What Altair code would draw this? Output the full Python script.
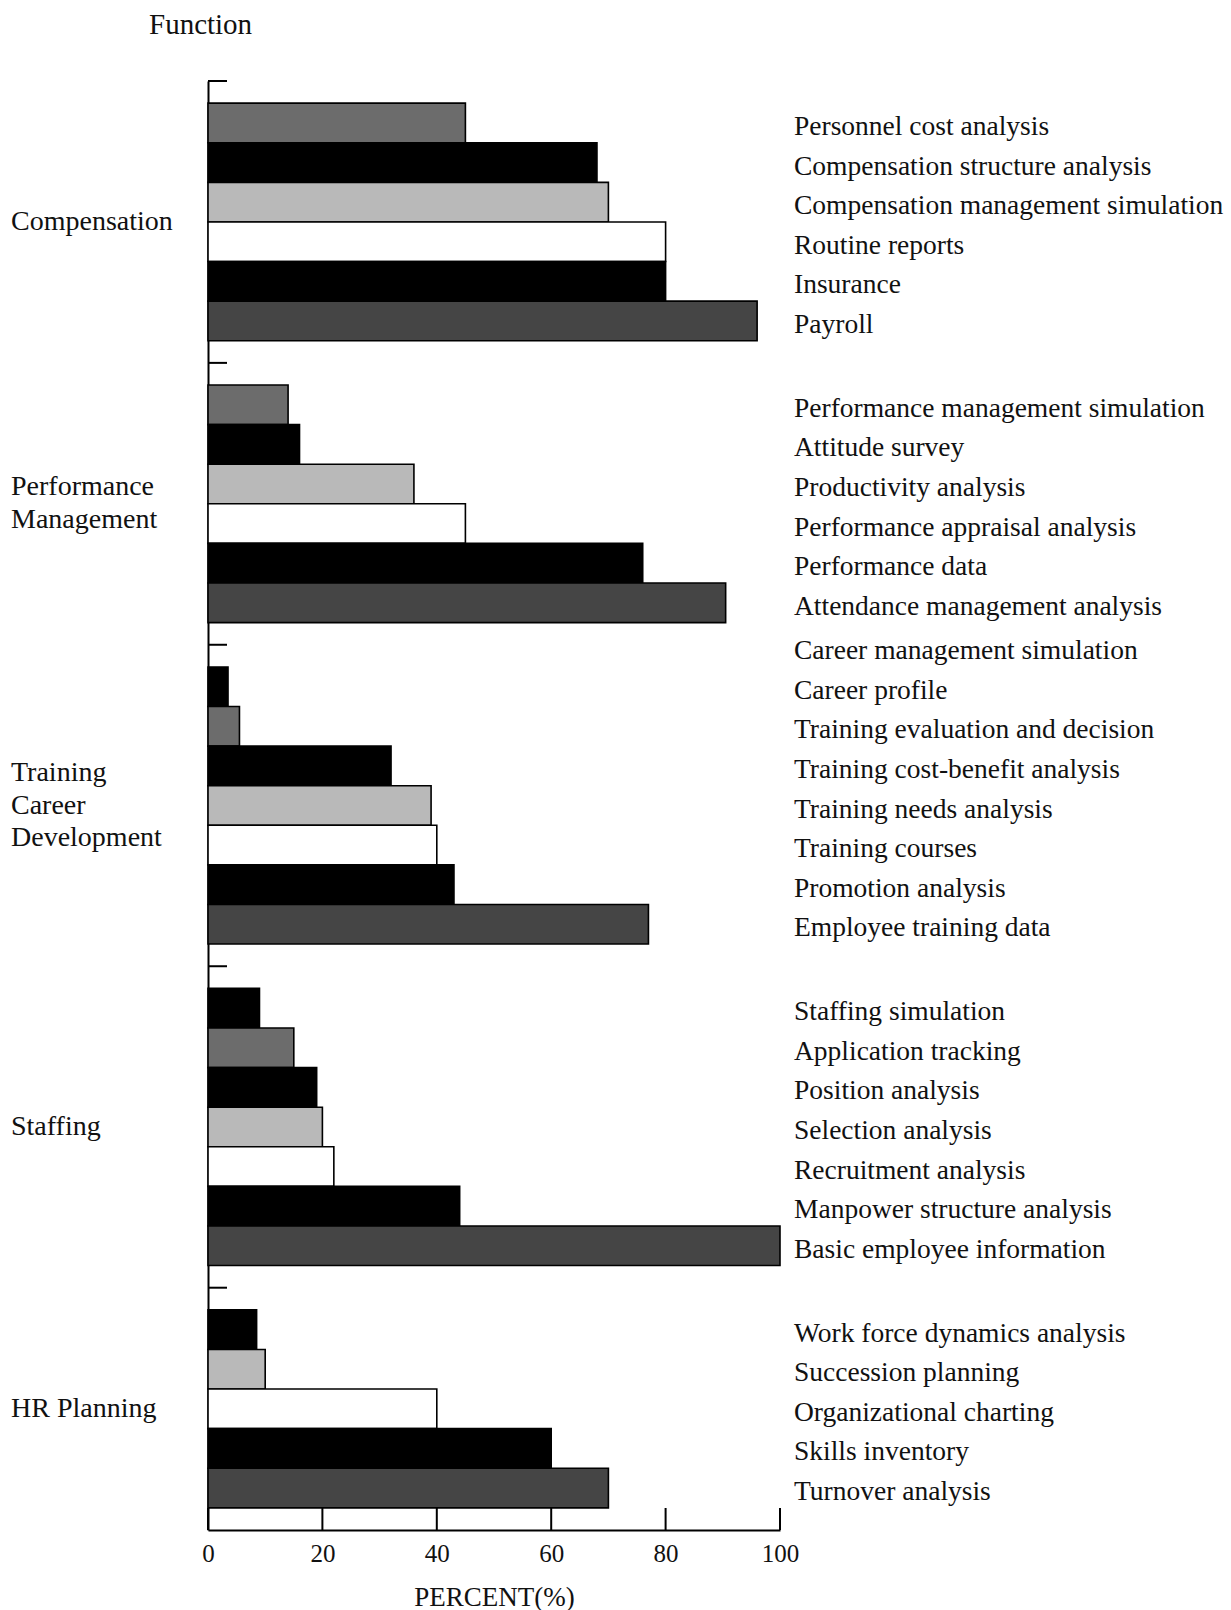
import altair as alt
import pandas as pd

# ---------------- data ----------------
GROUPS = ["Compensation", "Performance\nManagement", "Training\nCareer\nDevelopment", "Staffing", "HR Planning"]

COMP_ITEMS = ["Personnel cost analysis", "Compensation structure analysis",
              "Compensation management simulation", "Routine reports", "Insurance", "Payroll"]
COMP_VALUES = [45, 68, 70, 80, 80, 96]

PERF_ITEMS = ["Performance management simulation", "Attitude survey", "Productivity analysis",
              "Performance appraisal analysis", "Performance data", "Attendance management analysis"]
PERF_VALUES = [14, 16, 36, 45, 76, 90.5]

TRAIN_ITEMS = ["Career management simulation", "Career profile", "Training evaluation and decision",
               "Training cost-benefit analysis", "Training needs analysis", "Training courses",
               "Promotion analysis", "Employee training data"]
TRAIN_VALUES = [None, 3.5, 5.5, 32, 39, 40, 43, 77]

STAFF_ITEMS = ["Staffing simulation", "Application tracking", "Position analysis", "Selection analysis",
               "Recruitment analysis", "Manpower structure analysis", "Basic employee information"]
STAFF_VALUES = [9, 15, 19, 20, 22, 44, 100]

HR_ITEMS = ["Work force dynamics analysis", "Succession planning", "Organizational charting",
            "Skills inventory", "Turnover analysis"]
HR_VALUES = [8.5, 10, 40, 60, 70]

X_TICKS = [0, 20, 40, 60, 80, 100]

ITEMS = [COMP_ITEMS, PERF_ITEMS, TRAIN_ITEMS, STAFF_ITEMS, HR_ITEMS]
VALUES = [COMP_VALUES, PERF_VALUES, TRAIN_VALUES, STAFF_VALUES, HR_VALUES]

# shade pattern counted from the bottom bar of each group
SHADE_CYCLE = ["dark", "black", "white", "light", "black", "medium", "black"]
SHADE_DOMAIN = ["dark", "medium", "light", "black", "white"]
SHADE_RANGE = ["#454545", "#6c6c6c", "#b9b9b9", "#000000", "#ffffff"]

# ---------------- layout in bar-slot units ----------------
GAP = 0.56
LINE_STEP = 0.83  # line pitch of the multi-line group names, in slot units
bars, labels, groups, glines = [], [], [], []
cursor = 0.0
for g, items, vals in zip(GROUPS, ITEMS, VALUES):
    n = sum(v is not None for v in vals)
    start = cursor + GAP
    center = start + n / 2
    groups.append({"group": g, "tick": cursor})
    parts = g.split("\n")
    for i, p in enumerate(parts):
        glines.append({"line": p, "yc": center + (i - (len(parts) - 1) / 2) * LINE_STEP})
    m = len(items)
    for k in range(m):
        from_bottom = m - 1 - k
        slot = n - 1 - from_bottom
        labels.append({"item": items[k], "yc": start + slot + 0.5})
        if vals[k] is not None:
            bars.append({"item": items[k], "value": vals[k],
                         "y0": start + slot, "y1": start + slot + 1,
                         "shade": SHADE_CYCLE[from_bottom % len(SHADE_CYCLE)]})
    cursor = start + n + GAP
TOTAL = cursor

bars_df = pd.DataFrame(bars)
labels_df = pd.DataFrame(labels)
groups_df = pd.DataFrame(groups)
glines_df = pd.DataFrame(glines)
ticks_df = pd.DataFrame({"t": X_TICKS})

W, H = 572, 1449
FONT = "Liberation Serif"

yscale = alt.Scale(domain=[0, TOTAL], reverse=True, nice=False, zero=False)
xscale = alt.Scale(domain=[0, 100], nice=False)

bar_layer = alt.Chart(bars_df).mark_rect(stroke="black", strokeWidth=1.6).encode(
    x=alt.X("value:Q", scale=xscale,
            axis=alt.Axis(values=X_TICKS, ticks=False, tickSize=0, labelPadding=11,
                          labelFlush=False,
                          labelFontSize=25, labelFont=FONT, labelColor="#111",
                          domainColor="black", domainWidth=2, grid=False,
                          title="PERCENT(%)", titleFont=FONT, titleFontSize=27,
                          titleFontWeight="normal", titleColor="#111", titlePadding=18)),
    x2=alt.datum(0),
    y=alt.Y("y0:Q", scale=yscale,
            axis=alt.Axis(labels=False, ticks=False, grid=False, title=None,
                          domainColor="black", domainWidth=2)),
    y2="y1:Q",
    fill=alt.Fill("shade:N", scale=alt.Scale(domain=SHADE_DOMAIN, range=SHADE_RANGE), legend=None),
)

group_ticks = alt.Chart(groups_df).mark_rule(color="black", strokeWidth=2).encode(
    y=alt.Y("tick:Q", scale=yscale),
    x=alt.value(0), x2=alt.value(19),
)

axis_ticks = alt.Chart(ticks_df).mark_rule(color="black", strokeWidth=2).encode(
    x=alt.X("t:Q", scale=xscale),
    y=alt.value(H), y2=alt.value(H - 22),
)

right_labels = alt.Chart(labels_df).mark_text(
    align="left", baseline="middle", font=FONT, fontSize=27.5, color="#111", dx=14, dy=4
).encode(
    x=alt.datum(100),
    y=alt.Y("yc:Q", scale=yscale),
    text="item:N",
)

left_labels = alt.Chart(glines_df).mark_text(
    align="left", baseline="middle", font=FONT, fontSize=28, color="#111", dx=-197
).encode(
    x=alt.datum(0),
    y=alt.Y("yc:Q", scale=yscale),
    text="line:N",
)

chart = alt.layer(bar_layer, group_ticks, axis_ticks, right_labels, left_labels).properties(
    width=W, height=H,
    autosize=alt.AutoSizeParams(type="none"),
    padding={"left": 208, "top": 81, "right": 451, "bottom": 80},
    background="white",
    title=alt.TitleParams("Function", anchor="start", frame="group", dx=-59, offset=40,
                          font=FONT, fontSize=29, fontWeight="normal", color="#111"),
).configure_view(stroke=None)

chart.save("out.html", embed_options={"renderer": "svg", "actions": False})
